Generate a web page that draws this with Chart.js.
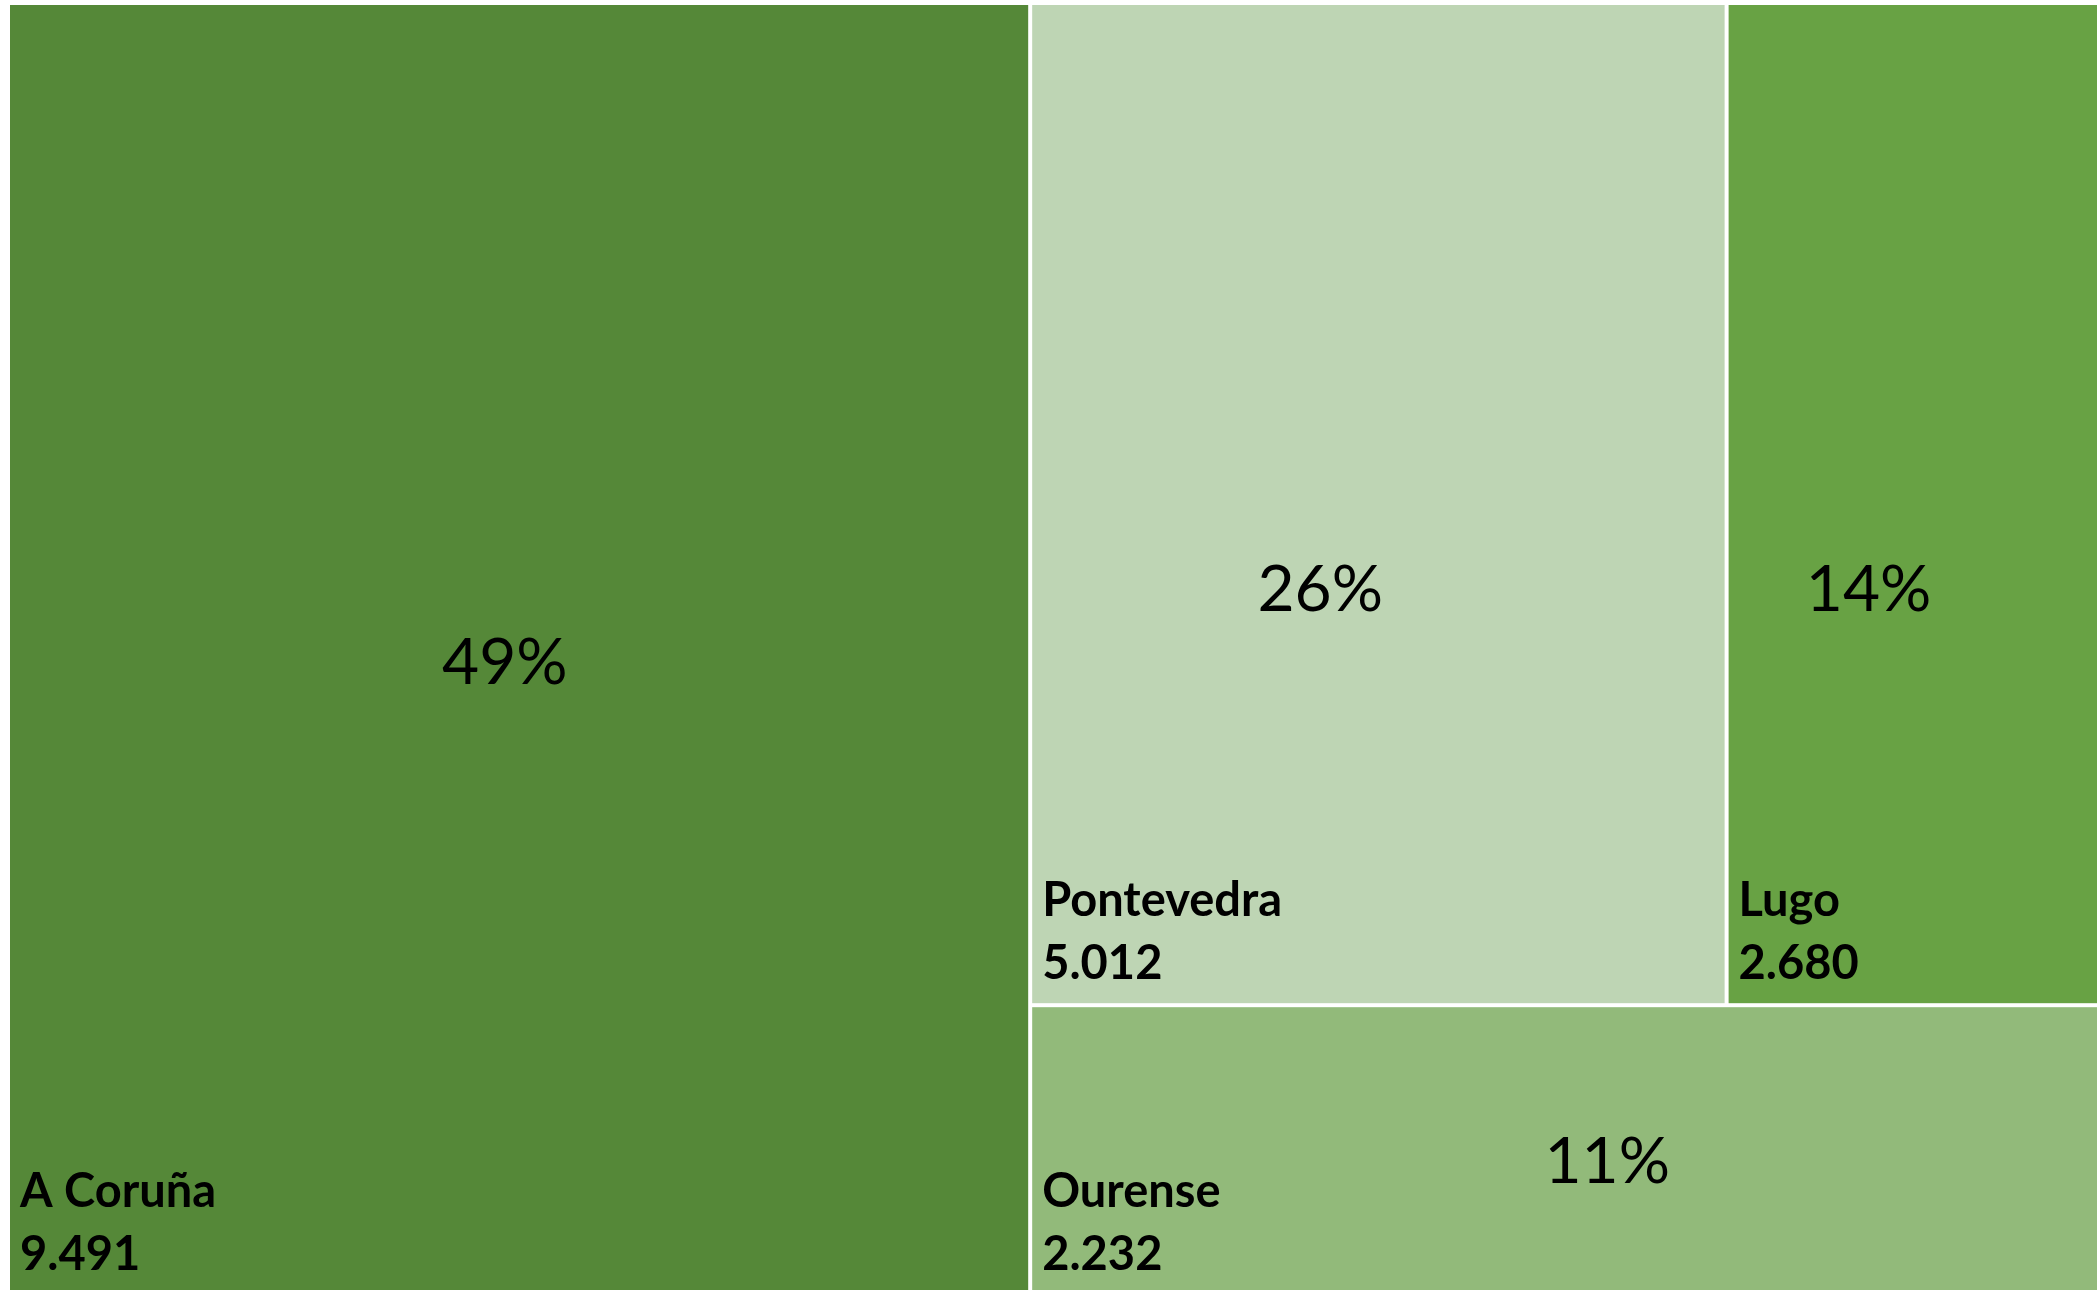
<!DOCTYPE html>
<html>
<head>
<meta charset="utf-8">
<script src="https://cdn.jsdelivr.net/npm/chart.js@4/dist/chart.umd.min.js"></script>
<style>
  html, body { margin: 0; padding: 0; background: #ffffff; overflow: hidden; }
  #wrap { width: 2100px; height: 1298px; }
</style>
</head>
<body>
<div id="wrap"><canvas id="c" width="2100" height="1298"></canvas></div>
<script>
// ---- data ----
const categories = ["A Coruña", "Pontevedra", "Lugo", "Ourense"];
const values = [9.491, 5.012, 2.680, 2.232];
const valueLabels = ["9.491", "5.012", "2.680", "2.232"];
const colors = ["#558838", "#bed5b4", "#68a244", "#92ba7a"];
// layout tree: 'h' = side by side, 'v' = stacked (indices into categories)
const layoutTree = { dir: "h", children: [0, { dir: "v", children: [{ dir: "h", children: [1, 2] }, 3] }] };
// percent label anchor inside each tile (fraction of tile width / height)
const pctAnchorX = [0.486, 0.416, 0.380, 0.540];
const pctAnchorY = [0.509, 0.584, 0.584, 0.533];

const total = values.reduce((a, b) => a + b, 0);

function sumNode(n) {
  return typeof n === "number" ? values[n] : n.children.reduce((s, c) => s + sumNode(c), 0);
}
// compute tiles in data units (x 0..1, y 0..1 with y=1 at top)
function layout(n, x0, y0, x1, y1, out) {
  if (typeof n === "number") { out[n] = { x0, y0, x1, y1 }; return; }
  const tot = sumNode(n);
  let pos = n.dir === "h" ? x0 : y1;
  n.children.forEach(c => {
    const f = sumNode(c) / tot;
    if (n.dir === "h") {
      const nx = pos + f * (x1 - x0);
      layout(c, pos, y0, nx, y1, out); pos = nx;
    } else {
      const ny = pos - f * (y1 - y0);
      layout(c, x0, ny, x1, pos, out); pos = ny;
    }
  });
}
const tiles = [];
layout(layoutTree, 0, 0, 1, 1, tiles);

const treemapPlugin = {
  id: "treemap",
  afterDatasetsDraw(chart) {
    const ctx = chart.ctx;
    const xs = chart.scales.x, ys = chart.scales.y;
    const gap = 2;
    ctx.save();
    tiles.forEach((t, i) => {
      const px0 = xs.getPixelForValue(t.x0) + gap;
      const px1 = xs.getPixelForValue(t.x1) - gap;
      const py0 = ys.getPixelForValue(t.y1) + gap;
      const py1 = ys.getPixelForValue(t.y0) - gap;
      ctx.fillStyle = colors[i];
      ctx.fillRect(px0, py0, px1 - px0, py1 - py0);

      // percent label
      const pct = Math.round(values[i] / total * 100) + "%";
      ctx.fillStyle = "#000000";
      ctx.font = "400 64px Lato";
      ctx.textAlign = "center";
      ctx.textBaseline = "alphabetic";
      const cx = px0 + pctAnchorX[i] * (px1 - px0);
      const cy = py0 + pctAnchorY[i] * (py1 - py0);
      ctx.fillText(pct, cx, cy + 23);

      // name + value
      ctx.font = "700 47px Lato";
      ctx.textAlign = "left";
      ctx.fillText(categories[i], px0 + 10, py1 - 87);
      ctx.fillText(valueLabels[i], px0 + 10, py1 - 24);
    });
    ctx.restore();
  }
};

new Chart(document.getElementById("c"), {
  type: "scatter",
  data: { datasets: [{ data: [], pointRadius: 0 }] },
  options: {
    responsive: false,
    animation: false,
    events: [],
    layout: { padding: { left: 8, top: 3, right: 1, bottom: 2 } },
    plugins: { legend: { display: false }, tooltip: { enabled: false } },
    scales: {
      x: { type: "linear", min: 0, max: 1, display: false },
      y: { type: "linear", min: 0, max: 1, display: false }
    }
  },
  plugins: [treemapPlugin]
});
</script>
</body>
</html>
